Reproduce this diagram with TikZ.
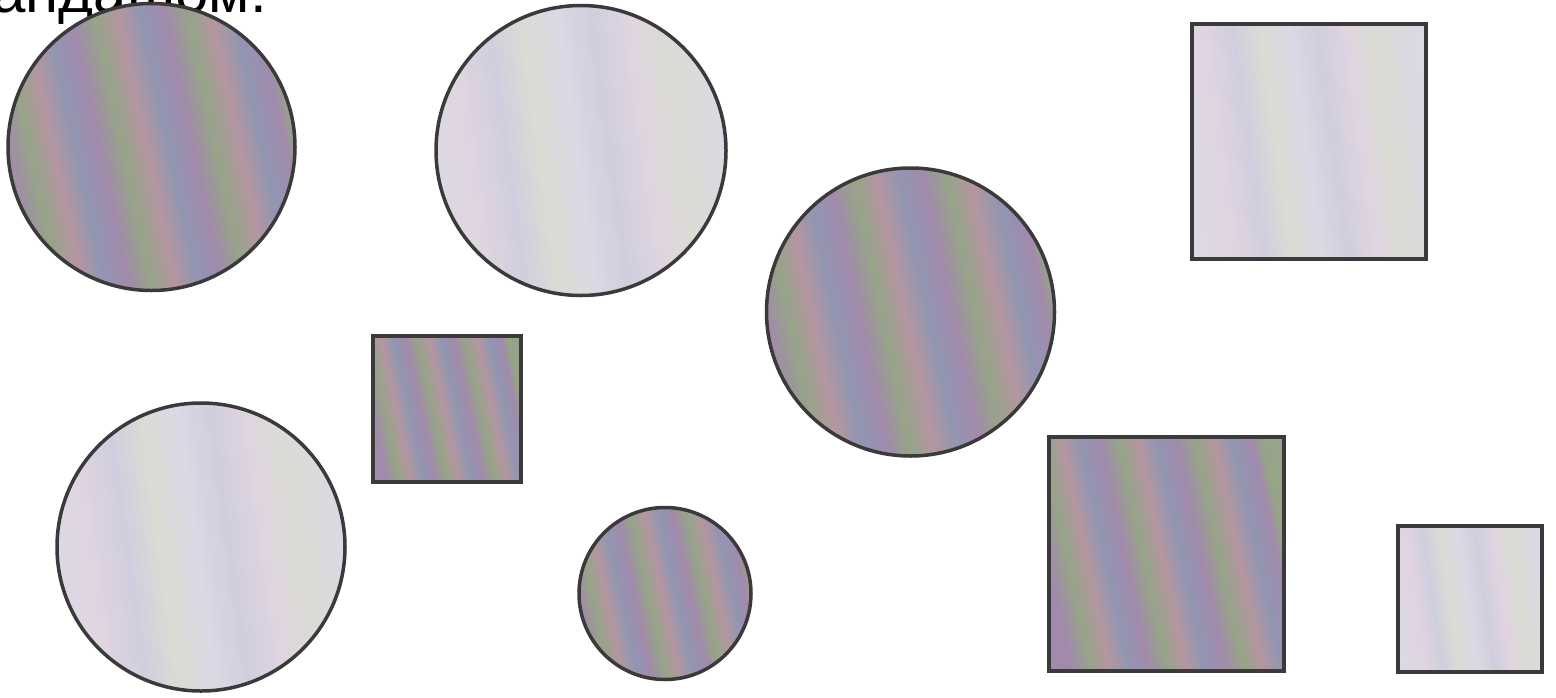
\documentclass[tikz,border=0pt]{standalone}
\usepackage{fontspec}
\setmainfont{Liberation Sans}
\definecolor{edgegray}{RGB}{58,58,58}
\definecolor{cP}{RGB}{162,138,172}
\definecolor{cG}{RGB}{150,164,136}
\definecolor{cK}{RGB}{180,150,160}
\definecolor{cB}{RGB}{145,150,178}
\definecolor{lA}{RGB}{220,216,228}
\definecolor{lB}{RGB}{208,206,222}
\definecolor{lC}{RGB}{218,220,212}
\definecolor{lD}{RGB}{224,212,224}
\pgfdeclarehorizontalshading{colstripes}{100bp}{color(0bp)=(cP); color(25bp)=(cP);
 color(29bp)=(cG); color(33bp)=(cK); color(37bp)=(cB); color(41bp)=(cP);
 color(45bp)=(cG); color(49bp)=(cK); color(53bp)=(cB); color(57bp)=(cP);
 color(61bp)=(cG); color(65bp)=(cK); color(69bp)=(cB); color(73bp)=(cP);
 color(75bp)=(cG); color(100bp)=(cG)}
\pgfdeclarehorizontalshading{lightstripes}{100bp}{color(0bp)=(lA); color(25bp)=(lA);
 color(31bp)=(lD); color(37bp)=(lB); color(43bp)=(lC); color(49bp)=(lA);
 color(55bp)=(lB); color(61bp)=(lD); color(67bp)=(lC); color(75bp)=(lA);
 color(100bp)=(lA)}
\tikzset{
  shp/.style={draw=edgegray, line width=3.5pt, inner sep=0pt, outer sep=0pt},
  colorful/.style={shp, shading=colstripes, shading angle=12},
  light/.style={shp, shading=lightstripes, shading angle=8},
  rnd/.style={circle, minimum size=#1},
  box/.style 2 args={rectangle, minimum width=#1, minimum height=#2},
  caption/.style={font=\fontsize{60pt}{60pt}\selectfont, inner sep=0pt, anchor=base east}
}
\begin{document}
\begin{tikzpicture}[x=1pt,y=-1pt]
\useasboundingbox (0,0) rectangle (1556,697);
\fill[white] (0,0) rectangle (1556,697);
\node[caption] (txt) at (267,12) {андашом.};
\node[colorful, rnd=287pt] (c1) at (151.5,147) {};
\node[light, rnd=290pt] (c2) at (581,150.5) {};
\node[colorful, rnd=288pt] (c3) at (910.5,312) {};
\node[light, box={234pt}{235pt}] (s1) at (1309,141.5) {};
\node[light, rnd=288pt] (c4) at (201,547) {};
\node[colorful, box={148pt}{146pt}] (s2) at (447,409) {};
\node[colorful, rnd=172pt] (c5) at (665,593.5) {};
\node[colorful, box={235pt}{234pt}] (s3) at (1166.5,554) {};
\node[light, box={144pt}{146pt}] (s4) at (1470,599) {};
\end{tikzpicture}
\end{document}
